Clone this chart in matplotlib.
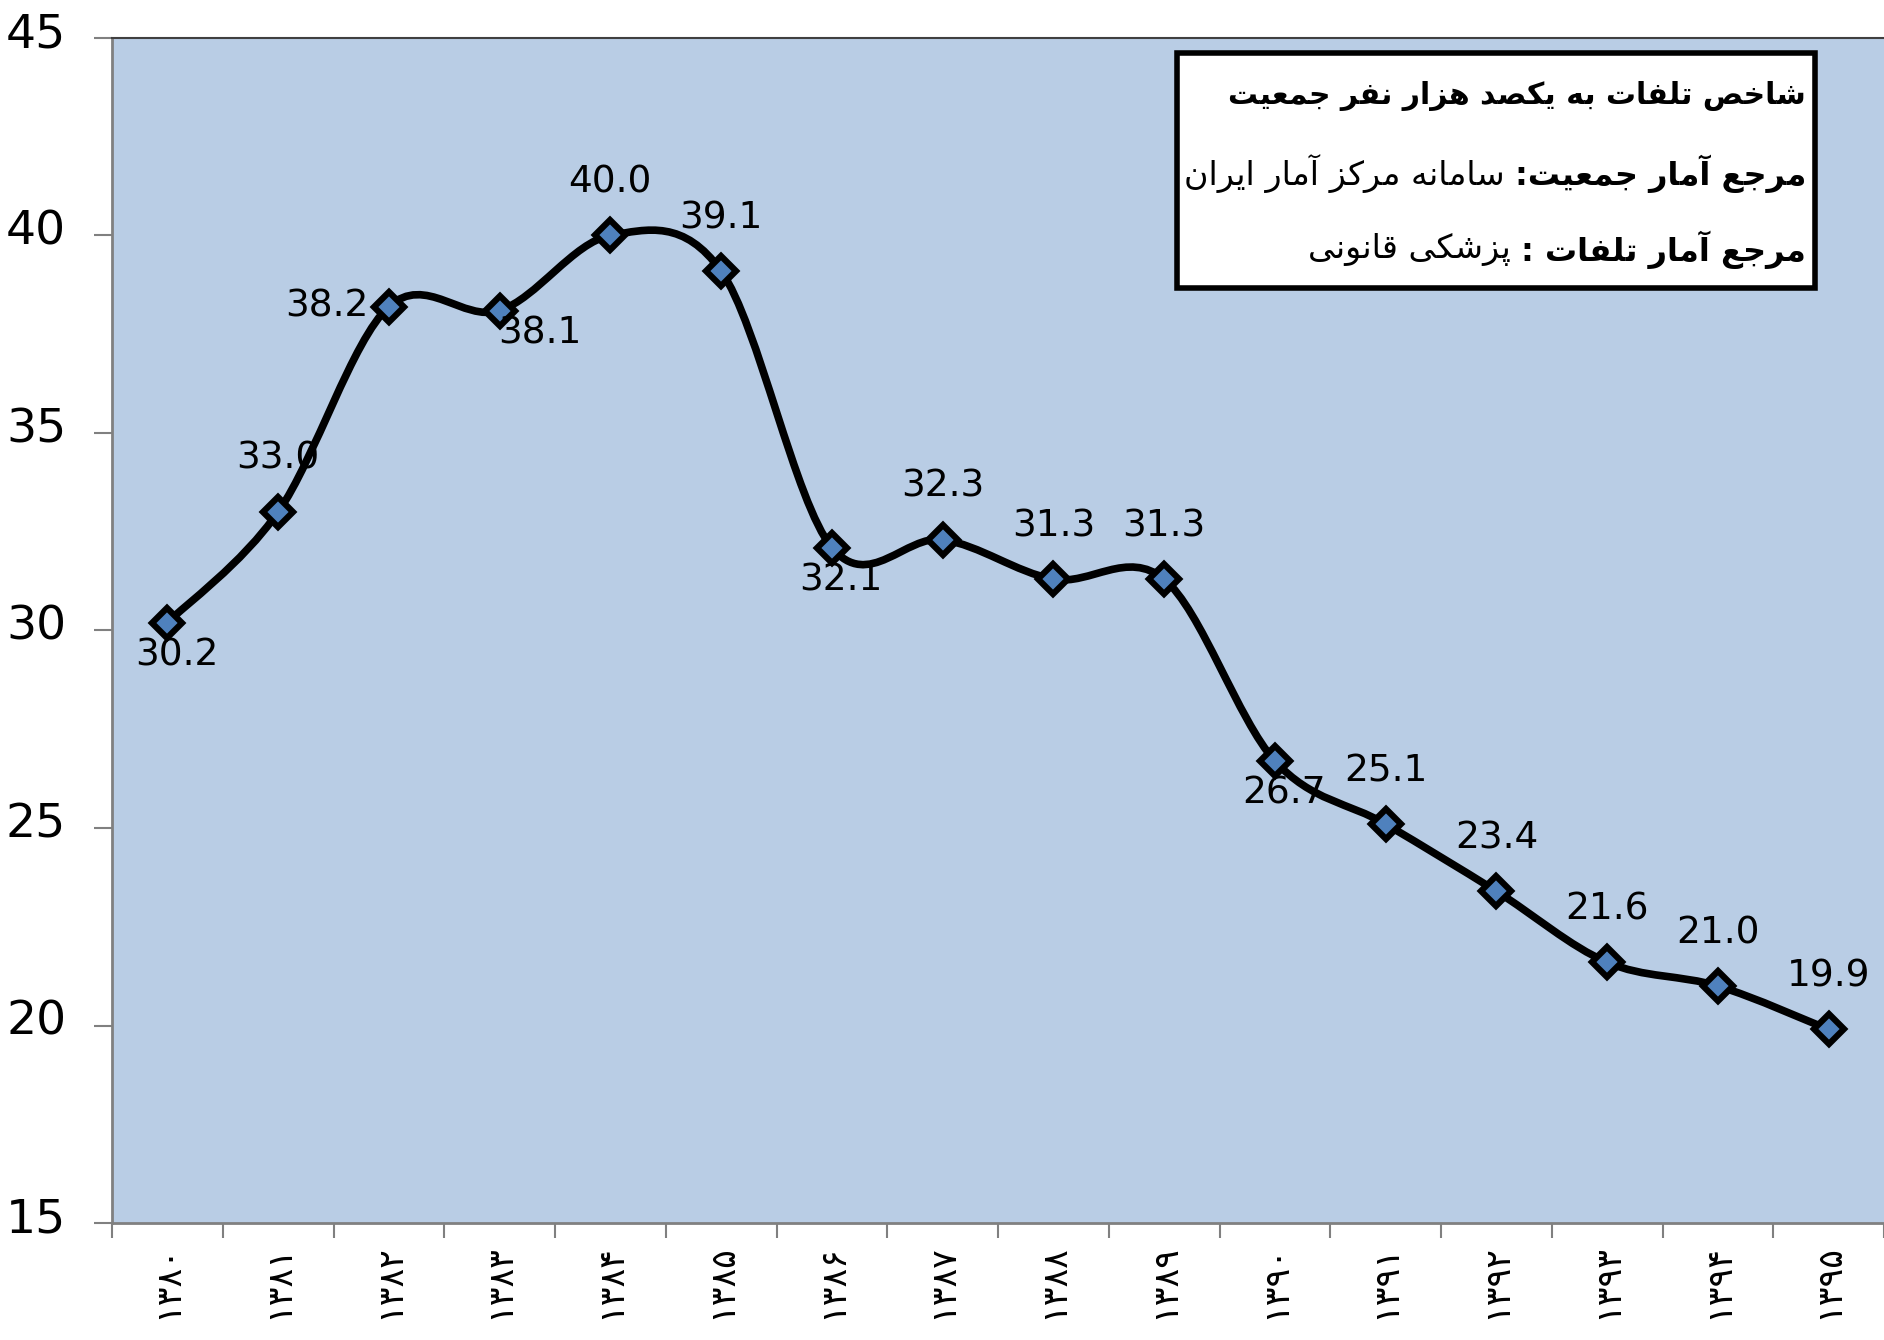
import matplotlib
matplotlib.use("Agg")
import matplotlib.pyplot as plt
from matplotlib.path import Path
from matplotlib.patches import PathPatch, Rectangle
from matplotlib.transforms import ScaledTranslation

years = ["۱۳۸۰", "۱۳۸۱", "۱۳۸۲", "۱۳۸۳", "۱۳۸۴", "۱۳۸۵", "۱۳۸۶", "۱۳۸۷",
         "۱۳۸۸", "۱۳۸۹", "۱۳۹۰", "۱۳۹۱", "۱۳۹۲", "۱۳۹۳", "۱۳۹۴", "۱۳۹۵"]
values = [30.2, 33.0, 38.2, 38.1, 40.0, 39.1, 32.1, 32.3,
          31.3, 31.3, 26.7, 25.1, 23.4, 21.6, 21.0, 19.9]
label_pos = ["belowright", "above", "left", "right", "above", "above", "belowright", "above",
             "above", "above", "belowright", "above", "above", "above", "above", "above"]

title_line = "شاخص تلفات به یکصد هزار نفر جمعیت"
src1_bold = "مرجع آمار جمعیت:"
src1_reg = "سامانه مرکز آمار ایران"
src2_bold = "مرجع آمار تلفات :"
src2_reg = "پزشکی قانونی"

# presentation forms: isolated, final, initial, medial
FORMS = {
    "ا": ("\uFE8D", "\uFE8E", None, None),
    "آ": ("\uFE81", "\uFE82", None, None),
    "ب": ("\uFE8F", "\uFE90", "\uFE91", "\uFE92"),
    "پ": ("\uFB56", "\uFB57", "\uFB58", "\uFB59"),
    "ت": ("\uFE95", "\uFE96", "\uFE97", "\uFE98"),
    "ج": ("\uFE9D", "\uFE9E", "\uFE9F", "\uFEA0"),
    "خ": ("\uFEA5", "\uFEA6", "\uFEA7", "\uFEA8"),
    "د": ("\uFEA9", "\uFEAA", None, None),
    "ر": ("\uFEAD", "\uFEAE", None, None),
    "ز": ("\uFEAF", "\uFEB0", None, None),
    "ژ": ("\uFB8A", "\uFB8B", None, None),
    "س": ("\uFEB1", "\uFEB2", "\uFEB3", "\uFEB4"),
    "ش": ("\uFEB5", "\uFEB6", "\uFEB7", "\uFEB8"),
    "ص": ("\uFEB9", "\uFEBA", "\uFEBB", "\uFEBC"),
    "ع": ("\uFEC9", "\uFECA", "\uFECB", "\uFECC"),
    "ف": ("\uFED1", "\uFED2", "\uFED3", "\uFED4"),
    "ق": ("\uFED5", "\uFED6", "\uFED7", "\uFED8"),
    "ک": ("\uFB8E", "\uFB8F", "\uFB90", "\uFB91"),
    "ل": ("\uFEDD", "\uFEDE", "\uFEDF", "\uFEE0"),
    "م": ("\uFEE1", "\uFEE2", "\uFEE3", "\uFEE4"),
    "ن": ("\uFEE5", "\uFEE6", "\uFEE7", "\uFEE8"),
    "ه": ("\uFEE9", "\uFEEA", "\uFEEB", "\uFEEC"),
    "و": ("\uFEED", "\uFEEE", None, None),
    "ی": ("\uFBFC", "\uFBFD", "\uFBFE", "\uFBFF"),
}


def dual(c):
    return c in FORMS and FORMS[c][2] is not None


def shape(s):
    # simple Persian shaping + visual (RTL) order
    out = []
    for i, c in enumerate(s):
        if c not in FORMS:
            out.append(c)
            continue
        prev = s[i - 1] if i > 0 else ""
        nxt = s[i + 1] if i + 1 < len(s) else ""
        join_prev = dual(prev)
        join_next = dual(c) and nxt in FORMS
        iso, fin, ini, med = FORMS[c]
        if join_prev and join_next:
            out.append(med)
        elif join_prev:
            out.append(fin)
        elif join_next:
            out.append(ini)
        else:
            out.append(iso)
    return "".join(out)[::-1]


def main():
    plt.rcParams['font.family'] = ['DejaVu Sans']
    W, H = 1884, 1340
    fig = plt.figure(figsize=(W / 100, H / 100), dpi=100)
    ax = fig.add_axes([112 / W, 1 - 1223 / H, 1772 / W, (1223 - 38) / H])
    ax.set_facecolor("#B9CDE5")

    x = list(range(len(values)))
    # smoothed line (Bezier through the points, like Excel's smoothed line)
    verts = [(x[0], values[0])]
    codes = [Path.MOVETO]
    n = len(values)
    for i in range(n - 1):
        p0 = (x[max(i - 1, 0)], values[max(i - 1, 0)])
        p1 = (x[i], values[i])
        p2 = (x[i + 1], values[i + 1])
        p3 = (x[min(i + 2, n - 1)], values[min(i + 2, n - 1)])
        c1 = (p1[0] + (p2[0] - p0[0]) / 6, p1[1] + (p2[1] - p0[1]) / 6)
        c2 = (p2[0] - (p3[0] - p1[0]) / 6, p2[1] - (p3[1] - p1[1]) / 6)
        verts += [c1, c2, p2]
        codes += [Path.CURVE4] * 3
    ax.add_patch(PathPatch(Path(verts, codes), fill=False, lw=5.5, color="black",
                           capstyle="round", joinstyle="round", zorder=3))
    ax.plot(x, values, ls="none", marker="D", ms=15, mfc="#4F81BD", mec="black",
            mew=4.5, zorder=4)

    offsets = {"above": (0, 53), "below": (0, -33), "left": (-62, 0),
               "belowright": (9, -33), "right": (40, -23)}
    for xi, v, pos in zip(x, values, label_pos):
        dx, dy = offsets[pos]
        ax.annotate(f"{v:.1f}", (xi, v), xytext=(dx, dy), textcoords="offset pixels",
                    ha="center", va="center", fontsize=27, zorder=5)

    ax.set_xlim(-0.5, 15.5)
    ax.set_ylim(15, 45)
    ax.set_yticks(range(15, 46, 5))
    ax.tick_params(axis="y", labelsize=34, length=13, width=1.5, color="#808080", pad=20)
    shift = ScaledTranslation(0, 6 / 72, fig.dpi_scale_trans)
    for lab in ax.get_yticklabels():
        lab.set_transform(lab.get_transform() + shift)
    ax.set_xticks(x)
    ax.set_xticklabels(years, rotation=90, fontsize=25)
    ax.set_xticks([i - 0.5 for i in range(n + 1)], minor=True)
    ax.tick_params(axis="x", which="major", length=0, pad=15)
    ax.tick_params(axis="x", which="minor", length=11, width=1.5, color="#808080")

    for side in ["left", "bottom"]:
        ax.spines[side].set_color("#808080")
        ax.spines[side].set_linewidth(2)
    ax.spines["top"].set_color("#404040")
    ax.spines["top"].set_linewidth(1.5)
    ax.spines["right"].set_visible(False)

    # info box
    box = Rectangle((1177 / W, 1 - 288 / H), (1815 - 1177) / W, (288 - 53) / H,
                    transform=fig.transFigure, facecolor="white", edgecolor="black",
                    lw=4, zorder=10)
    fig.patches.append(box)
    xr = 1806 / W
    fig.text(xr, 1 - 96 / H, shape(title_line), ha="right", va="center",
             fontsize=21.5, fontweight="bold", zorder=11)
    renderer = fig.canvas.get_renderer()
    for yy, b, r in [(174, src1_bold, src1_reg), (250, src2_bold, src2_reg)]:
        tb = fig.text(xr, 1 - yy / H, shape(b), ha="right", va="center",
                      fontsize=23, fontweight="bold", zorder=11)
        wb = tb.get_window_extent(renderer=renderer).width
        fig.text(xr - (wb + 10) / W, 1 - yy / H, shape(r), ha="right", va="center",
                 fontsize=24, zorder=11)

    fig.savefig("out.png", dpi=100)


if __name__ == "__main__":
    main()
